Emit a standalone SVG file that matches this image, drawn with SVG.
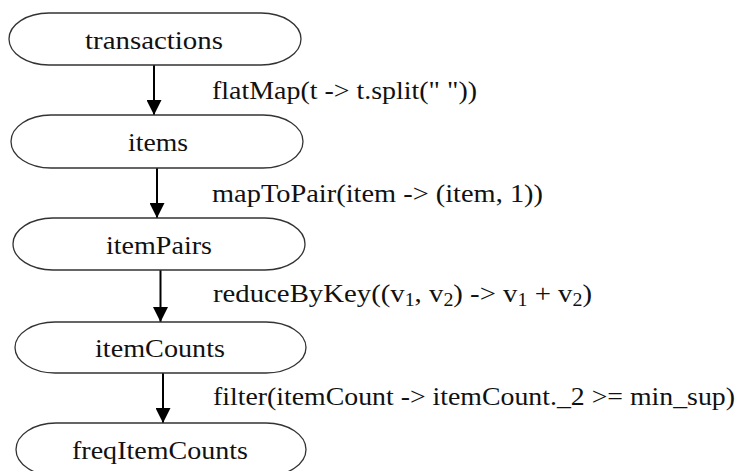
<svg xmlns="http://www.w3.org/2000/svg" width="743" height="471" viewBox="0 0 743 471">
<defs>
<marker id="ah" markerWidth="15" markerHeight="15" refX="15" refY="7.5" orient="auto" markerUnits="userSpaceOnUse">
<path d="M0,0 L15,7.5 L0,15 Z" fill="#000"/>
</marker>
<style>
.node rect{fill:#fff;stroke:#333;stroke-width:1.3}
.node text{font-size:26px;fill:#111;text-anchor:middle}
.lbl{font-size:26px;fill:#111}
.edge{stroke:#000;stroke-width:2;fill:none;marker-end:url(#ah)}
</style>
</defs>
<rect width="743" height="471" fill="#fff"/>
<g id="connectors" font-family="'Liberation Serif', 'Times New Roman', 'DejaVu Serif', serif">
<line class="edge" x1="154" y1="65" x2="154" y2="115"/>
<line class="edge" x1="157" y1="168" x2="157" y2="218"/>
<line class="edge" x1="160.5" y1="270" x2="160.5" y2="322"/>
<line class="edge" x1="163" y1="373" x2="163" y2="423"/>
<text class="lbl" x="212" y="99" textLength="265" lengthAdjust="spacingAndGlyphs">flatMap(t -&gt; t.split(" "))</text>
<text class="lbl" x="212" y="202" textLength="331" lengthAdjust="spacingAndGlyphs">mapToPair(item -&gt; (item, 1))</text>
<text class="lbl" x="213" y="302" textLength="379" lengthAdjust="spacingAndGlyphs">reduceByKey((v<tspan font-size="18" dy="4">1</tspan><tspan dy="-4">, v</tspan><tspan font-size="18" dy="4">2</tspan><tspan dy="-4">) -&gt; v</tspan><tspan font-size="18" dy="4">1</tspan><tspan dy="-4"> + v</tspan><tspan font-size="18" dy="4">2</tspan><tspan dy="-4">)</tspan></text>
<text class="lbl" x="213" y="405" textLength="522" lengthAdjust="spacingAndGlyphs">filter(itemCount -&gt; itemCount._2 &gt;= min_sup)</text>
</g>
<g font-family="'Liberation Serif', 'Times New Roman', 'DejaVu Serif', serif">
<g id="transactions" class="node"><rect x="9" y="13" width="292" height="52" rx="40" ry="26"/><text x="154" y="49" textLength="138" lengthAdjust="spacingAndGlyphs">transactions</text></g>
<g id="items" class="node"><rect x="11" y="115" width="292" height="53" rx="40" ry="26.5"/><text x="158" y="151" textLength="60" lengthAdjust="spacingAndGlyphs">items</text></g>
<g id="itemPairs" class="node"><rect x="13" y="218" width="292" height="52" rx="40" ry="26"/><text x="159" y="254" textLength="106" lengthAdjust="spacingAndGlyphs">itemPairs</text></g>
<g id="itemCounts" class="node"><rect x="15" y="322" width="291" height="51" rx="40" ry="25.5"/><text x="160" y="357" textLength="130" lengthAdjust="spacingAndGlyphs">itemCounts</text></g>
<g id="freqItemCounts" class="node"><rect x="16" y="423" width="290" height="53" rx="40" ry="26.5"/><text x="160" y="459" textLength="176" lengthAdjust="spacingAndGlyphs">freqItemCounts</text></g>
</g>
</svg>
